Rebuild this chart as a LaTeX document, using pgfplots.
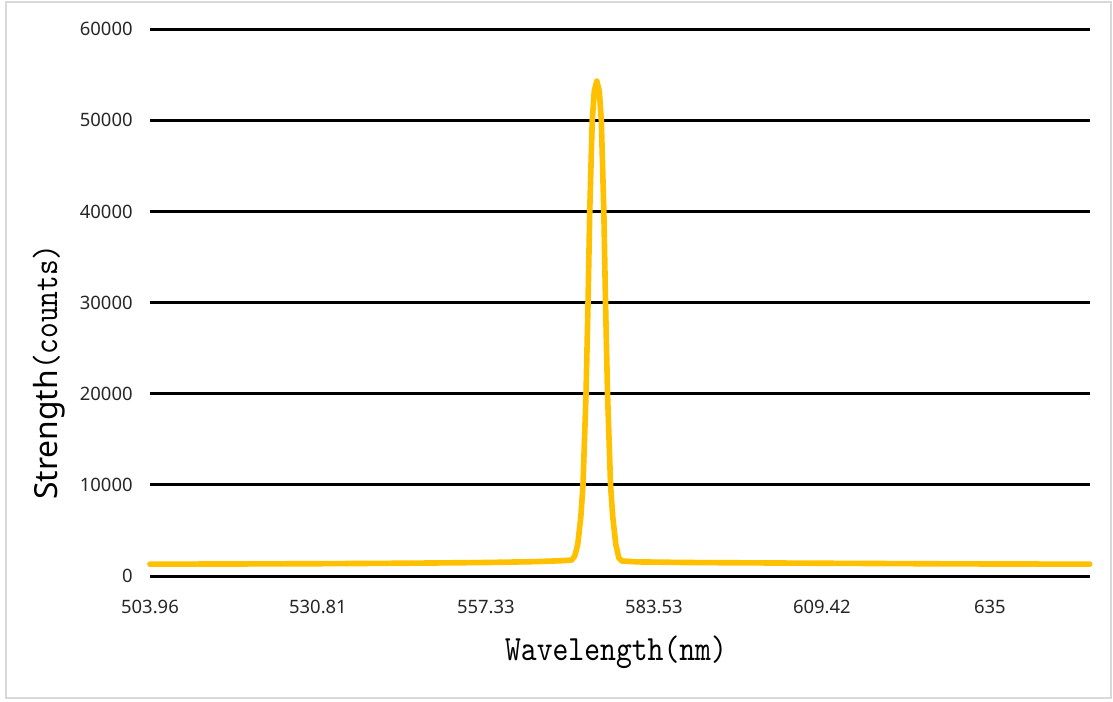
\documentclass[border=0pt]{standalone}
\usepackage{pgfplots}
\pgfplotsset{compat=1.18}
\usepackage{fontspec}
\setmainfont{Noto Sans}
\newfontfamily\simsun[FakeStretch=0.85, Extension=.otf]{lmmono10-regular}
\definecolor{gold}{RGB}{255,192,0}

\begin{document}
\begin{tikzpicture}[x=0.02cm,y=0.02cm]
  \useasboundingbox (0,0) rectangle (1113,702);
  \draw[black!15, line width=0.6pt] (6,4) rectangle (1111,700);

  \begin{axis}[
    at={(3cm,2.52cm)}, anchor=south west,
    scale only axis,
    width=18.8cm, height=10.94cm,
    xmin=0, xmax=559.5,
    ymin=0, ymax=60000,
    clip=false,
    scaled y ticks=false,
    axis line style={draw=none},
    tick style={draw=none},
    ymajorgrids,
    major grid style={black, line width=1.7pt},
    ytick={0,10000,20000,30000,40000,50000,60000},
    yticklabels={0,10000,20000,30000,40000,50000,60000},
    xtick={0,100,200,300,400,500},
    xticklabels={503.96,530.81,557.33,583.53,609.42,635},
    ticklabel style={font=\fontsize{10.5}{12}\selectfont, text=black!85},
    xticklabel style={anchor=north, inner sep=0pt, yshift=-0.48cm},
    yticklabel style={anchor=east, inner sep=0pt, xshift=-0.34cm},
  ]
    % spectrum, x in detector index (label every 100 points)
    \addplot[gold, line width=3.2pt, line join=round, line cap=round] coordinates {
      (0,1300) (50,1320) (100,1350) (150,1400) (200,1480) (230,1580) (245,1680)
      (251.1,1750) (252.9,2200) (254.7,3500) (256.5,6500) (257.8,10000)
      (259.6,20000) (260.8,30000) (261.8,40000) (263.3,50000) (264.5,53200)
      (266,54300)
      (267.5,53200) (268.7,50000) (270.2,40000) (271.2,30000) (272.4,20000)
      (274.2,10000) (275.5,6500) (277.3,3500) (279.1,2000) (280.9,1650)
      (290,1550) (320,1480) (400,1400) (480,1330) (559.5,1300)
    };
  \end{axis}

  \node[rotate=90, anchor=base west, inner sep=0pt] at (57,202)
    {{\fontsize{18.1}{20}\selectfont Strength}{\simsun\fontsize{20}{22}\selectfont (counts)}};
  \node[inner sep=0pt] at (616,50)
    {\simsun\fontsize{20.2}{22}\selectfont Wavelength(nm)};
\end{tikzpicture}
\end{document}
